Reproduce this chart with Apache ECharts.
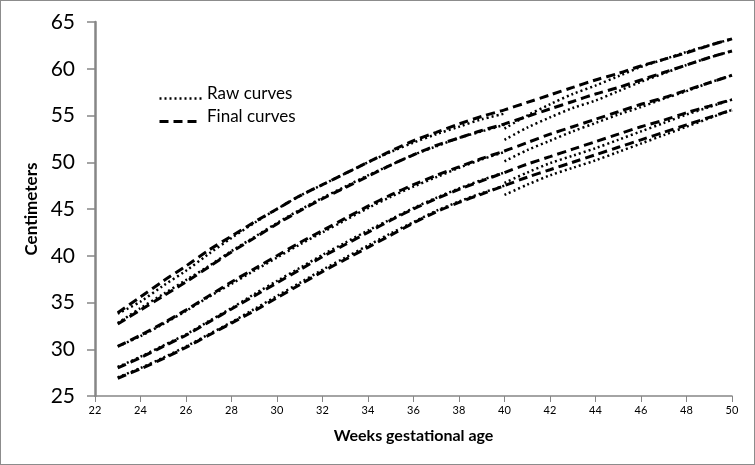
<!DOCTYPE html>
<html>
<head>
<meta charset="utf-8">
<script src="https://cdn.jsdelivr.net/npm/echarts@6/dist/echarts.min.js"></script>
<style>
  html, body { margin: 0; padding: 0; background: #fff; }
  #chart { width: 755px; height: 465px; box-sizing: border-box; border: 1px solid #8c8c8c; }
</style>
</head>
<body>
<div id="chart"></div>
<script>
// weeks gestational age
const weeks = [23, 24, 25, 26, 27, 28, 29, 30, 31, 32, 33, 34, 35, 36, 37, 38, 39, 40, 41, 42, 43, 44, 45, 46, 47, 48, 49, 50];

// final (smoothed) curves, top to bottom
const final1 = [33.9, 35.6, 37.3, 38.9, 40.6, 42.1, 43.6, 45.0, 46.4, 47.6, 48.8, 50.0, 51.2, 52.3, 53.2, 54.1, 54.9, 55.6, 56.4, 57.2, 58.0, 58.8, 59.5, 60.3, 61.0, 61.7, 62.5, 63.2];
const final2 = [32.7, 34.2, 35.7, 37.2, 38.8, 40.4, 41.9, 43.4, 44.8, 46.1, 47.3, 48.5, 49.7, 50.8, 51.8, 52.6, 53.4, 54.1, 54.9, 55.7, 56.5, 57.3, 58.0, 58.8, 59.6, 60.4, 61.2, 61.9];
const final3 = [30.3, 31.5, 32.8, 34.2, 35.7, 37.2, 38.6, 40.0, 41.4, 42.7, 44.0, 45.3, 46.5, 47.6, 48.6, 49.5, 50.4, 51.2, 52.1, 53.0, 53.8, 54.6, 55.4, 56.2, 56.9, 57.7, 58.5, 59.3];
const final4 = [28.0, 29.1, 30.3, 31.5, 32.9, 34.3, 35.7, 37.1, 38.5, 39.9, 41.2, 42.5, 43.8, 45.0, 46.1, 47.1, 48.0, 48.9, 49.8, 50.6, 51.4, 52.2, 53.0, 53.8, 54.5, 55.3, 56.0, 56.7];
const final5 = [26.9, 27.9, 29.0, 30.2, 31.5, 32.8, 34.1, 35.5, 36.9, 38.3, 39.6, 40.9, 42.2, 43.5, 44.7, 45.7, 46.6, 47.5, 48.4, 49.2, 50.0, 50.8, 51.6, 52.4, 53.2, 54.0, 54.8, 55.6];

// raw curves, preterm part (weeks 23..40)
const rawPreWeeks = [23, 24, 25, 26, 27, 28, 29, 30, 31, 32, 33, 34, 35, 36, 37, 38, 39, 40];
const rawPre1 = [33.8, 35.1, 36.8, 38.4, 40.2, 41.9, 43.5, 45.0, 46.4, 47.6, 48.8, 50.0, 51.1, 52.1, 53.0, 53.8, 54.6, 55.2];
const rawPre2 = [32.8, 34.4, 35.9, 37.4, 38.9, 40.5, 42.0, 43.5, 44.9, 46.2, 47.4, 48.6, 49.7, 50.8, 51.7, 52.6, 53.3, 54.0];
const rawPre3 = [30.3, 31.4, 32.7, 34.1, 35.6, 37.0, 38.4, 39.8, 41.2, 42.5, 43.8, 45.1, 46.3, 47.4, 48.4, 49.4, 50.3, 51.1];
const rawPre4 = [28.1, 29.2, 30.4, 31.6, 33.0, 34.4, 35.9, 37.3, 38.7, 40.1, 41.4, 42.7, 43.9, 45.1, 46.2, 47.2, 48.1, 48.9];
const rawPre5 = [27.0, 28.0, 29.1, 30.3, 31.6, 32.9, 34.3, 35.7, 37.1, 38.5, 39.8, 41.1, 42.4, 43.6, 44.8, 45.8, 46.7, 47.5];

// raw curves, post-term part (weeks 40..50)
const rawPostWeeks = [40, 41, 42, 43, 44, 45, 46, 47, 48, 49, 50];
const rawPost1 = [53.6, 55.0, 56.2, 57.3, 58.2, 59.2, 60.2, 61.0, 61.8, 62.5, 63.2];
const rawPost2 = [52.4, 53.7, 54.8, 55.8, 56.6, 57.6, 58.6, 59.5, 60.4, 61.2, 61.9];
const rawPost3 = [50.1, 51.3, 52.3, 53.3, 54.2, 55.1, 55.9, 56.8, 57.6, 58.5, 59.3];
const rawPost4 = [47.8, 48.9, 49.9, 50.7, 51.5, 52.4, 53.3, 54.2, 55.1, 55.9, 56.7];
const rawPost5 = [46.5, 47.6, 48.6, 49.4, 50.2, 51.1, 52.0, 52.9, 53.8, 54.7, 55.6];

const xTicks = [22, 24, 26, 28, 30, 32, 34, 36, 38, 40, 42, 44, 46, 48, 50];
const yTicks = [25, 30, 35, 40, 45, 50, 55, 60, 65];
const legendNames = ['Raw curves', 'Final curves'];

const pairs = (xs, ys) => xs.map((x, i) => [x, ys[i]]);

const FONT = 'Lato';
const RAW_DASH = [2, 3];
const FINAL_DASH = [9, 5];

function rawSeries(xs, ys) {
    return {
        name: legendNames[0],
        type: 'line',
        data: pairs(xs, ys),
        showSymbol: false,
        symbol: 'none',
        smooth: 0.3,
        silent: true,
        lineStyle: { color: '#000', width: 2.5, type: RAW_DASH },
        z: 2
    };
}

function finalSeries(ys) {
    return {
        name: legendNames[1],
        type: 'line',
        data: pairs(weeks, ys),
        showSymbol: false,
        symbol: 'none',
        smooth: 0.3,
        silent: true,
        lineStyle: { color: '#000', width: 3, type: FINAL_DASH },
        z: 3
    };
}

// legend drawn by hand so the samples keep their dash patterns
function legendItem(top, label, dash, width) {
    return [
        {
            type: 'line',
            left: 156, top: top,
            shape: { x1: 0, y1: 0, x2: 42, y2: 0 },
            style: { stroke: '#000', lineWidth: width, lineDash: dash }
        },
        {
            type: 'text',
            left: 206, top: top - 11,
            style: { text: label, fill: '#000', font: '17px ' + FONT }
        }
    ];
}

const chart = echarts.init(document.getElementById('chart'), null, { renderer: 'canvas' });

const option = {
    animation: false,
    backgroundColor: '#fff',
    textStyle: { fontFamily: FONT },
    grid: { left: 94, right: 22, top: 21, bottom: 68 },
    graphic: [
        ...legendItem(95, legendNames[0], RAW_DASH, 2.5),
        ...legendItem(118, legendNames[1], FINAL_DASH, 3)
    ],
    xAxis: {
        type: 'value',
        min: 22,
        max: 50,
        interval: 2,
        name: 'Weeks gestational age',
        nameLocation: 'middle',
        nameGap: 32,
        nameTextStyle: { fontFamily: FONT, fontSize: 16, fontWeight: 'bold', color: '#000' },
        axisLine: { lineStyle: { color: '#868686', width: 1.5 } },
        axisTick: { show: true, length: 6, lineStyle: { color: '#868686' } },
        axisLabel: {
            fontSize: 11, color: '#000', margin: 9,
            formatter: v => xTicks.includes(v) ? String(v) : ''
        },
        splitLine: { show: false }
    },
    yAxis: {
        type: 'value',
        min: 25,
        max: 65,
        interval: 5,
        name: 'Centimeters',
        nameLocation: 'middle',
        nameGap: 54,
        nameRotate: 90,
        nameTextStyle: { fontFamily: FONT, fontSize: 17, fontWeight: 'bold', color: '#000' },
        axisLine: { show: true, lineStyle: { color: '#868686', width: 2.5 } },
        axisTick: { show: true, length: 8, lineStyle: { color: '#868686', width: 1.5 } },
        axisLabel: {
            fontSize: 21, color: '#000', margin: 20,
            formatter: v => yTicks.includes(v) ? String(v) : ''
        },
        splitLine: { show: false }
    },
    series: [
        rawSeries(rawPreWeeks, rawPre1),
        rawSeries(rawPreWeeks, rawPre2),
        rawSeries(rawPreWeeks, rawPre3),
        rawSeries(rawPreWeeks, rawPre4),
        rawSeries(rawPreWeeks, rawPre5),
        rawSeries(rawPostWeeks, rawPost1),
        rawSeries(rawPostWeeks, rawPost2),
        rawSeries(rawPostWeeks, rawPost3),
        rawSeries(rawPostWeeks, rawPost4),
        rawSeries(rawPostWeeks, rawPost5),
        finalSeries(final1),
        finalSeries(final2),
        finalSeries(final3),
        finalSeries(final4),
        finalSeries(final5)
    ]
};

chart.setOption(option);
</script>
</body>
</html>
